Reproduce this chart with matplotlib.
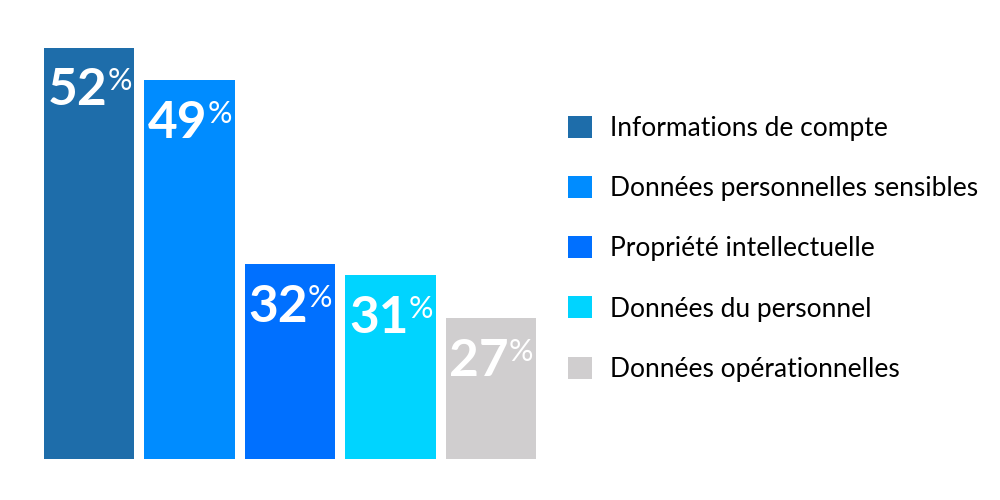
import matplotlib
matplotlib.use("Agg")
import matplotlib.pyplot as plt
from matplotlib.patches import Patch

# === Data ===
categories = ["Informations de compte", "Données personnelles sensibles",
              "Propriété intellectuelle", "Données du personnel",
              "Données opérationnelles"]
values = [52, 49, 32, 31, 27]
colors = ["#1E6DAA", "#008CFF", "#0070FF", "#00D4FF", "#D0CECF"]

plt.rcParams['font.family'] = ['Lato', 'DejaVu Sans']

fig = plt.figure(figsize=(10, 5), dpi=100)
ax = fig.add_axes([0.044, 0.082, 0.492, 0.822])

x = list(range(len(values)))
ax.bar(x, values, width=0.9, color=colors)
ax.set_xlim(-0.45, 4.45)
ax.set_ylim(14, 52)
ax.axis("off")

# value labels: big number + small superscript %
for xi, v in zip(x, values):
    ax.annotate(str(v), xy=(xi, v), xytext=(13, -14), textcoords="offset points",
                ha="right", va="top", color="white", fontsize=37, fontweight="bold")
    ax.annotate("%", xy=(xi, v), xytext=(13, -14), textcoords="offset points",
                ha="left", va="top", color="white", fontsize=22)

handles = [Patch(facecolor=c, edgecolor="none") for c in colors]
fig.legend(handles, categories, loc="upper left", bbox_to_anchor=(0.568, 0.768),
           frameon=False, fontsize=19, handlelength=0.9, handleheight=0.9,
           handletextpad=0.7, labelspacing=1.33, borderpad=0, borderaxespad=0)

fig.savefig("out.png", dpi=100)
